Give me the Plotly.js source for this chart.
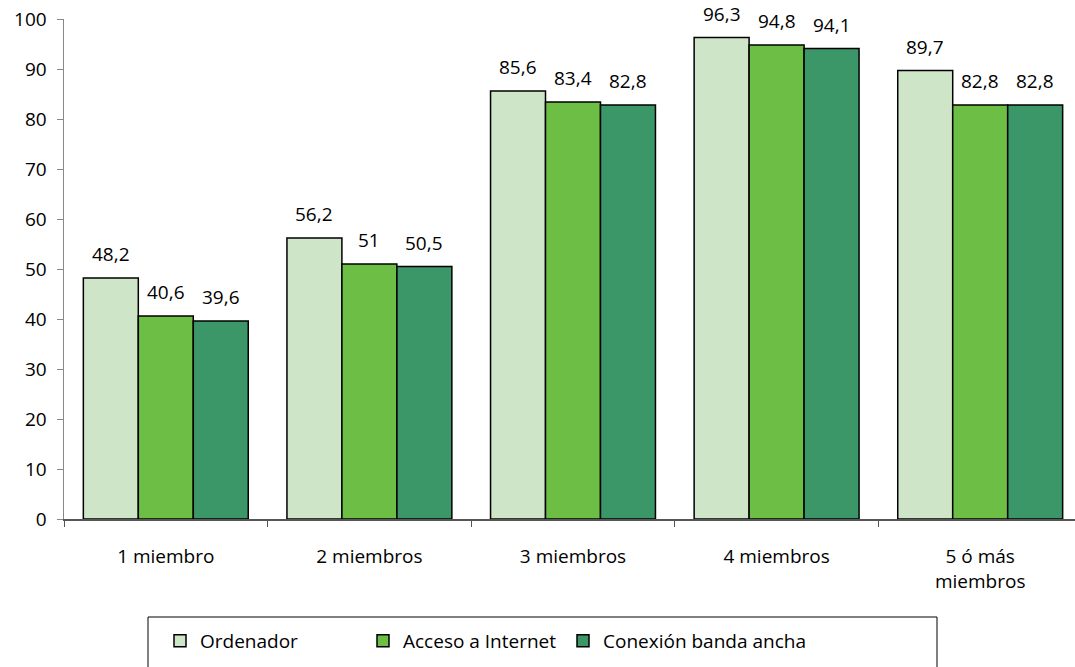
<!DOCTYPE html>
<html><head><meta charset="utf-8">
<script src="https://cdn.plot.ly/plotly-3.0.1.min.js"></script>
<style>html,body{margin:0;padding:0;overflow:hidden;background:#fff}</style>
</head><body>
<div id="chart" style="width:1090px;height:667px"></div>
<script>
const categories = ["1 miembro", "2 miembros", "3 miembros", "4 miembros", "5 ó más<br>miembros"];
const seriesNames = ["Ordenador", "Acceso a Internet", "Conexión banda ancha"];
const ordenador = [48.2, 56.2, 85.6, 96.3, 89.7];
const internet = [40.6, 51, 83.4, 94.8, 82.8];
const bandaAncha = [39.6, 50.5, 82.8, 94.1, 82.8];
const colors = ["#cfe5c7", "#6dbe45", "#3b9768"];
const yTicks = [0,10,20,30,40,50,60,70,80,90,100];

const fmt = v => String(v).replace('.', ',');
const FONT = "'Open Sans', sans-serif";
const FS = 19;
const allSeries = [ordenador, internet, bandaAncha];
const legendIds = ['legend', 'legend2', 'legend3'];
const data = allSeries.map((vals, i) => ({
  type: 'bar', name: seriesNames[i], x: categories, y: vals,
  legend: legendIds[i],
  marker: {color: colors[i], line: {color: '#000', width: 1.5}},
  hoverinfo: 'skip'
}));
const annotations = [];
allSeries.forEach((vals, i) => {
  vals.forEach((v, j) => {
    annotations.push({
      x: categories[j], y: v, xref: 'x', yref: 'y', text: fmt(v),
      showarrow: false, xanchor: 'center', yanchor: 'bottom',
      xshift: (i - 1) * 55, yshift: 9,
      font: {size: FS, family: FONT, color: '#000'}
    });
  });
});
const legendX = [160, 363, 563];
const layout = {
  width: 1090, height: 667,
  margin: {l: 64, r: 8, t: 19, b: 148},
  barmode: 'group', bargap: 0.19, bargroupgap: 0,
  font: {family: FONT, size: FS, color: '#000'},
  paper_bgcolor: '#fff', plot_bgcolor: '#fff',
  showlegend: true,
  annotations: annotations,
  shapes: [{
    type: 'rect', xref: 'paper', yref: 'paper',
    x0: (148 - 64) / 1018, x1: (937 - 64) / 1018,
    y0: -(667 - 19 - 500 + 10) / 500, y1: -(617 - 519) / 500,
    line: {color: '#000', width: 1}, fillcolor: 'rgba(0,0,0,0)'
  }],
  xaxis: {
    showline: true, linecolor: '#555', linewidth: 1.5,
    ticks: 'outside', tickson: 'boundaries', ticklen: 6, tickcolor: '#555',
    tickfont: {size: FS, family: FONT}, showgrid: false, ticklabelstandoff: 20
  },
  yaxis: {
    range: [0, 100], tickvals: yTicks, showline: true, linecolor: '#888', linewidth: 1.5,
    ticks: 'outside', ticklen: 6, tickcolor: '#888', showgrid: false, zeroline: false,
    tickfont: {size: FS, family: FONT}, ticklabelstandoff: 6
  }
};
legendIds.forEach((id, i) => {
  layout[id] = {
    orientation: 'h', xref: 'container', yref: 'container',
    x: legendX[i] / 1090, xanchor: 'left', y: 26 / 667, yanchor: 'middle',
    borderwidth: 0, bgcolor: 'rgba(0,0,0,0)',
    font: {size: FS, family: FONT}, itemwidth: 30
  };
});
Plotly.newPlot('chart', data, layout, {displayModeBar: false, staticPlot: true});
</script>
</body></html>
